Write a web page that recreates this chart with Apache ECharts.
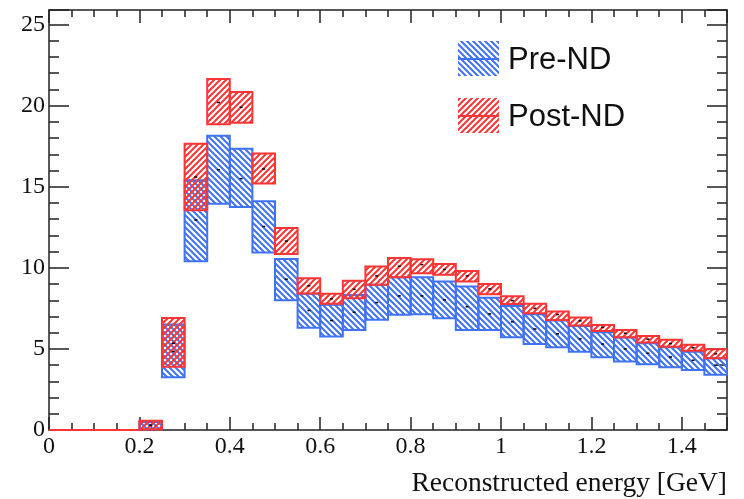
<!DOCTYPE html>
<html>
<head>
<meta charset="utf-8">
<script src="https://cdn.jsdelivr.net/npm/echarts@6/dist/echarts.min.js"></script>
<style>
  html, body { margin: 0; padding: 0; background: #fff; }
  #main { width: 744px; height: 499px; }
</style>
</head>
<body>
<div id="main"></div>
<script>
// bin edges in GeV
var binEdges = [0, 0.05, 0.1, 0.15, 0.2, 0.25, 0.3, 0.35, 0.4, 0.45, 0.5, 0.55, 0.6, 0.65, 0.7, 0.75,
                0.8, 0.85, 0.9, 0.95, 1, 1.05, 1.1, 1.15, 1.2, 1.25, 1.3, 1.35, 1.4, 1.45, 1.5];

// Pre-ND band (low / high / central)
var preLow  = [0, 0, 0, 0, 0.05, 3.25, 10.4, 13.95, 13.75, 10.95, 8.0, 6.3, 5.76, 6.17, 6.8, 7.1,
               7.14, 6.89, 6.17, 6.17, 5.72, 5.31, 5.1, 4.83, 4.49, 4.22, 4.05, 3.87, 3.7, 3.4];
var preHigh = [0, 0, 0, 0, 0.5, 6.5, 15.4, 18.15, 17.35, 14.1, 10.55, 8.4, 7.72, 8.33, 8.95, 9.42,
               9.42, 9.16, 8.85, 8.16, 7.65, 7.14, 6.75, 6.42, 6.03, 5.7, 5.35, 5.1, 4.83, 4.43];
var preMid  = [0, 0, 0, 0, 0.27, 4.85, 12.95, 16.05, 15.5, 12.55, 9.3, 7.37, 6.75, 7.26, 7.86, 8.27,
               8.27, 8.02, 7.6, 7.16, 6.67, 6.23, 5.93, 5.62, 5.3, 5.0, 4.73, 4.5, 4.3, 4.0];

// Post-ND band
var postLow  = [0, 0, 0, 0, 0.03, 3.9, 13.55, 18.85, 18.95, 15.2, 10.85, 8.42, 7.78, 8.13, 8.95, 9.42,
                9.67, 9.57, 9.16, 8.37, 7.77, 7.2, 6.79, 6.44, 6.11, 5.72, 5.39, 5.14, 4.88, 4.43];
var postHigh = [0, 0, 0, 0, 0.57, 6.9, 17.65, 21.65, 20.85, 17.05, 12.45, 9.36, 8.4, 9.2, 10.08, 10.6,
                10.53, 10.23, 9.81, 9.0, 8.25, 7.78, 7.3, 6.93, 6.48, 6.17, 5.8, 5.56, 5.25, 4.98];
var postMid  = [0, 0, 0, 0, 0.3, 5.35, 15.6, 20.2, 19.9, 16.1, 11.65, 8.89, 8.09, 8.68, 9.5, 10.1,
                10.2, 9.9, 9.5, 8.7, 7.98, 7.5, 7.12, 6.73, 6.33, 5.97, 5.6, 5.33, 5.07, 4.7];

var blue = '#4072f5';
var red = '#fd3535';

function hatch(color, back) {
  var c = document.createElement('canvas');
  c.width = 6; c.height = 6;
  var ctx = c.getContext('2d');
  ctx.strokeStyle = color;
  ctx.lineWidth = 2;
  ctx.beginPath();
  if (back) {
    ctx.moveTo(-1, -1); ctx.lineTo(7, 7);
    ctx.moveTo(-1, 5); ctx.lineTo(1, 7);
    ctx.moveTo(5, -1); ctx.lineTo(7, 1);
  } else {
    ctx.moveTo(-1, 7); ctx.lineTo(7, -1);
    ctx.moveTo(-1, 1); ctx.lineTo(1, -1);
    ctx.moveTo(5, 7); ctx.lineTo(7, 5);
  }
  ctx.stroke();
  return { image: c, repeat: 'repeat' };
}

var bluePattern = hatch(blue, true);
var redPattern = hatch(red, false);

function rows(lo, hi, mid) {
  return lo.map(function (v, i) {
    return [binEdges[i], binEdges[i + 1], v, hi[i], mid[i]];
  });
}

function makeRender(color, pattern) {
  return function (params, api) {
    var x0 = api.value(0), x1 = api.value(1);
    var p0 = api.coord([x0, api.value(3)]);
    var p1 = api.coord([x1, api.value(2)]);
    var pm = api.coord([(x0 + x1) / 2, api.value(4)]);
    var kids = [{
      type: 'rect',
      shape: { x: p0[0], y: p0[1], width: p1[0] - p0[0], height: p1[1] - p0[1] },
      style: { fill: pattern, stroke: color, lineWidth: 2 }
    }];
    if (api.value(4) > 0) {
      kids.push({
        type: 'line',
        shape: { x1: pm[0] - 1.5, y1: pm[1], x2: pm[0] + 1.5, y2: pm[1] },
        style: { stroke: '#000', lineWidth: 1.5 }
      });
    }
    return { type: 'group', children: kids };
  };
}

var axisCol = '#222';
var serif = 'Liberation Serif';

function xAxisCfg(pos, labels) {
  return {
    type: 'value', position: pos, min: 0, max: 1.5, interval: 0.2,
    axisLine: { show: true, onZero: false, lineStyle: { color: axisCol, width: 1.5 } },
    axisTick: { show: true, inside: true, length: 13, lineStyle: { color: axisCol, width: 1.5 } },
    minorTick: { show: true, splitNumber: 4, length: 7, lineStyle: { color: axisCol, width: 1.5 } },
    splitLine: { show: false },
    axisLabel: {
      show: labels, margin: 5, color: '#111', fontFamily: serif, fontSize: 24,
      formatter: function (v) { return v >= 1.5 ? '' : String(+v.toFixed(2)); }
    }
  };
}

function yAxisCfg(pos, labels) {
  return {
    type: 'value', position: pos, min: 0, max: 25.9, interval: 5,
    axisLine: { show: true, onZero: false, lineStyle: { color: axisCol, width: 1.5 } },
    axisTick: { show: true, inside: true, length: 20, lineStyle: { color: axisCol, width: 1.5 } },
    minorTick: { show: true, splitNumber: 5, length: 10, lineStyle: { color: axisCol, width: 1.5 } },
    splitLine: { show: false },
    axisLabel: {
      show: labels, margin: 4, color: '#111', fontFamily: serif, fontSize: 24,
      formatter: function (v) { return v > 25 ? '' : String(v); }
    }
  };
}

var xBottom = xAxisCfg('bottom', true);
xBottom.name = 'Reconstructed energy [GeV]';
xBottom.nameLocation = 'end';
xBottom.nameGap = 0;
xBottom.nameTextStyle = {
  fontFamily: serif, fontSize: 27.5, color: '#111',
  align: 'right', verticalAlign: 'top', padding: [40, 0, 0, 0]
};

var chart = echarts.init(document.getElementById('main'));
chart.setOption({
  animation: false,
  backgroundColor: '#fff',
  grid: { left: 49, right: 17, top: 10, bottom: 69 },
  xAxis: [xBottom, xAxisCfg('top', false)],
  yAxis: [yAxisCfg('left', true), yAxisCfg('right', false)],
  series: [
    {
      name: 'Pre-ND', type: 'custom', xAxisIndex: 0, yAxisIndex: 0,
      encode: { x: [0, 1], y: [2, 3] },
      data: rows(preLow, preHigh, preMid),
      renderItem: makeRender(blue, bluePattern)
    },
    {
      name: 'Post-ND', type: 'custom', xAxisIndex: 0, yAxisIndex: 0,
      encode: { x: [0, 1], y: [2, 3] },
      data: rows(postLow, postHigh, postMid),
      renderItem: makeRender(red, redPattern)
    }
  ],
  graphic: [
    { type: 'rect', shape: { x: 458, y: 41, width: 41, height: 35 }, style: { fill: bluePattern } },
    { type: 'line', shape: { x1: 458, y1: 59, x2: 499, y2: 59 }, style: { stroke: blue, lineWidth: 2 } },
    { type: 'text', x: 508, y: 60, style: { text: 'Pre-ND', font: '31px "Liberation Sans"', fill: '#111', verticalAlign: 'middle' } },
    { type: 'rect', shape: { x: 458, y: 98, width: 41, height: 35 }, style: { fill: redPattern } },
    { type: 'line', shape: { x1: 458, y1: 116, x2: 499, y2: 116 }, style: { stroke: red, lineWidth: 2 } },
    { type: 'text', x: 508, y: 117, style: { text: 'Post-ND', font: '31px "Liberation Sans"', fill: '#111', verticalAlign: 'middle' } }
  ]
});
</script>
</body>
</html>
